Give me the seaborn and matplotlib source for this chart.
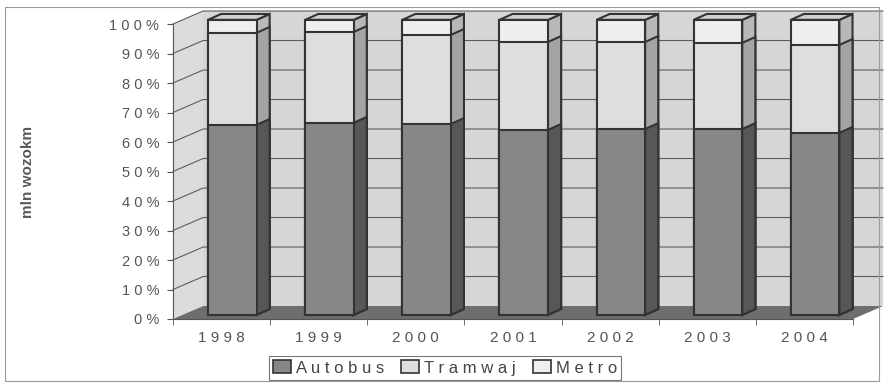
import numpy as np
import pandas as pd
import matplotlib.pyplot as plt
import seaborn as sns
from matplotlib.patches import Polygon, Patch, Rectangle

years = ['1998', '1999', '2000', '2001', '2002', '2003', '2004']
autobus = [64.4, 65.1, 64.7, 62.7, 63.0, 63.0, 61.7]
tramwaj = [31.2, 30.8, 30.2, 29.8, 29.5, 29.2, 29.8]
metro = [4.4, 4.1, 5.1, 7.5, 7.5, 7.8, 8.5]
series = ['Autobus', 'Tramwaj', 'Metro']

front = {'Autobus': '#878787', 'Tramwaj': '#dedede', 'Metro': '#efefef'}
side = {'Autobus': '#575757', 'Tramwaj': '#a4a4a4', 'Metro': '#b8b8b8'}
edge = '#333333'
txt = '#555555'

df = pd.DataFrame({'year': years, 'Autobus': autobus, 'Tramwaj': tramwaj, 'Metro': metro})
df['cum_Autobus'] = df['Autobus']
df['cum_Tramwaj'] = df['Autobus'] + df['Tramwaj']
df['cum_Metro'] = df['cum_Tramwaj'] + df['Metro']

sns.set_style('white')
plt.rcParams['font.family'] = ['Liberation Sans', 'DejaVu Sans']

fig = plt.figure(figsize=(8.84, 3.83), dpi=100)
ax = fig.add_axes([173 / 884, 64 / 383, 680 / 884, 295 / 383])

# wall depth (data units) and bar depth/offset
DX, DY = 0.31, 4.4
BX, BY = 0.11, 1.4
dx, dy = 0.135, 2.0

# walls and floor
ax.add_patch(Polygon([(-0.5, 0), (-0.5, 100), (-0.5 + DX, 100 + DY), (-0.5 + DX, DY)],
                     closed=True, fc='#dcdcdc', ec='none', zorder=0, clip_on=False))
ax.add_patch(Polygon([(-0.5 + DX, DY), (-0.5 + DX, 100 + DY), (6.5 + DX, 100 + DY), (6.5 + DX, DY)],
                     closed=True, fc='#d6d6d6', ec='none', zorder=0, clip_on=False))
ax.add_patch(Polygon([(-0.5, 0), (6.5, 0), (6.5 + DX, DY), (-0.5 + DX, DY)],
                     closed=True, fc='#6e6e6e', ec='none', zorder=1, clip_on=False))
for v in range(10, 101, 10):
    ax.plot([-0.5, -0.5 + DX, 6.5 + DX], [v, v + DY, v + DY], color='#5e5e5e', lw=0.8,
            zorder=1, clip_on=False)

# stacked bars: draw tallest first
z = 3
for s in ['Metro', 'Tramwaj', 'Autobus']:
    n0 = len(ax.patches)
    sns.barplot(data=df, x='year', y='cum_' + s, color=front[s], saturation=1, width=0.5,
                edgecolor=edge, linewidth=1.5, ax=ax, zorder=z)
    for p in ax.patches[n0:]:
        p.set_x(p.get_x() + BX)
        p.set_y(p.get_y() + BY)
        p.set_zorder(z + 1)
        p.set_clip_on(False)
        x0, y0 = p.get_x(), p.get_y()
        x1, y1 = x0 + p.get_width(), y0 + p.get_height()
        ax.add_patch(Polygon([(x1, y0), (x1 + dx, y0 + dy), (x1 + dx, y1 + dy), (x1, y1)],
                             closed=True, fc=side[s], ec=edge, lw=1.5, zorder=z, clip_on=False))
        if s == 'Metro':
            ax.add_patch(Polygon([(x0, y1), (x0 + dx, y1 + dy), (x1 + dx, y1 + dy), (x1, y1)],
                                 closed=True, fc='#cfcfcf', ec=edge, lw=1.5, zorder=z, clip_on=False))
    z += 2

ax.set_xlim(-0.5, 6.5)
ax.set_ylim(0, 100)
ax.set_yticks(range(0, 101, 10))
ax.set_yticklabels([' '.join(str(v)) + ' %' for v in range(0, 101, 10)])
ax.set_xticks(range(len(years)))
ax.set_xticklabels([' '.join(y) for y in years])
ax.set_xticks(np.arange(-0.5, 7, 1), minor=True)
ax.tick_params(axis='x', which='major', length=0, pad=9, labelsize=11, labelcolor=txt)
ax.tick_params(axis='x', which='minor', length=4, color='#555555', direction='out', bottom=True)
ax.tick_params(axis='y', length=4, color='#555555', direction='out', left=True,
               labelsize=10.5, labelcolor=txt, pad=6)
ax.set_xlabel('')
ax.set_ylabel('')
for k in ['top', 'right']:
    ax.spines[k].set_visible(False)
for k in ['left', 'bottom']:
    ax.spines[k].set_color('#555555')
    ax.spines[k].set_linewidth(0.8)
    ax.spines[k].set_zorder(20)

fig.text(28 / 884, 1 - 172 / 383, 'mln wozokm', rotation=90, ha='center', va='center',
         fontsize=11, fontweight='bold', color='#5a5a5a')

handles = [Patch(fc=front[s], ec=edge, lw=1.2) for s in series]
leg = fig.legend(handles, [' '.join(s) for s in series], loc='center',
                 bbox_to_anchor=(445 / 884, 1 - 368 / 383), ncol=3, frameon=True,
                 fancybox=False, edgecolor='#555555', fontsize=12, handlelength=1.1,
                 handleheight=0.8, handletextpad=0.3, columnspacing=1.0,
                 borderpad=0.25, labelcolor='#444444')
leg.get_frame().set_linewidth(0.8)

fig.patches.append(Rectangle((5 / 884, 2 / 383), 874 / 884, 374 / 383, transform=fig.transFigure,
                             fill=False, ec='#9a9a9a', lw=0.8, zorder=30))

fig.savefig('out.png', dpi=100, facecolor='white')
